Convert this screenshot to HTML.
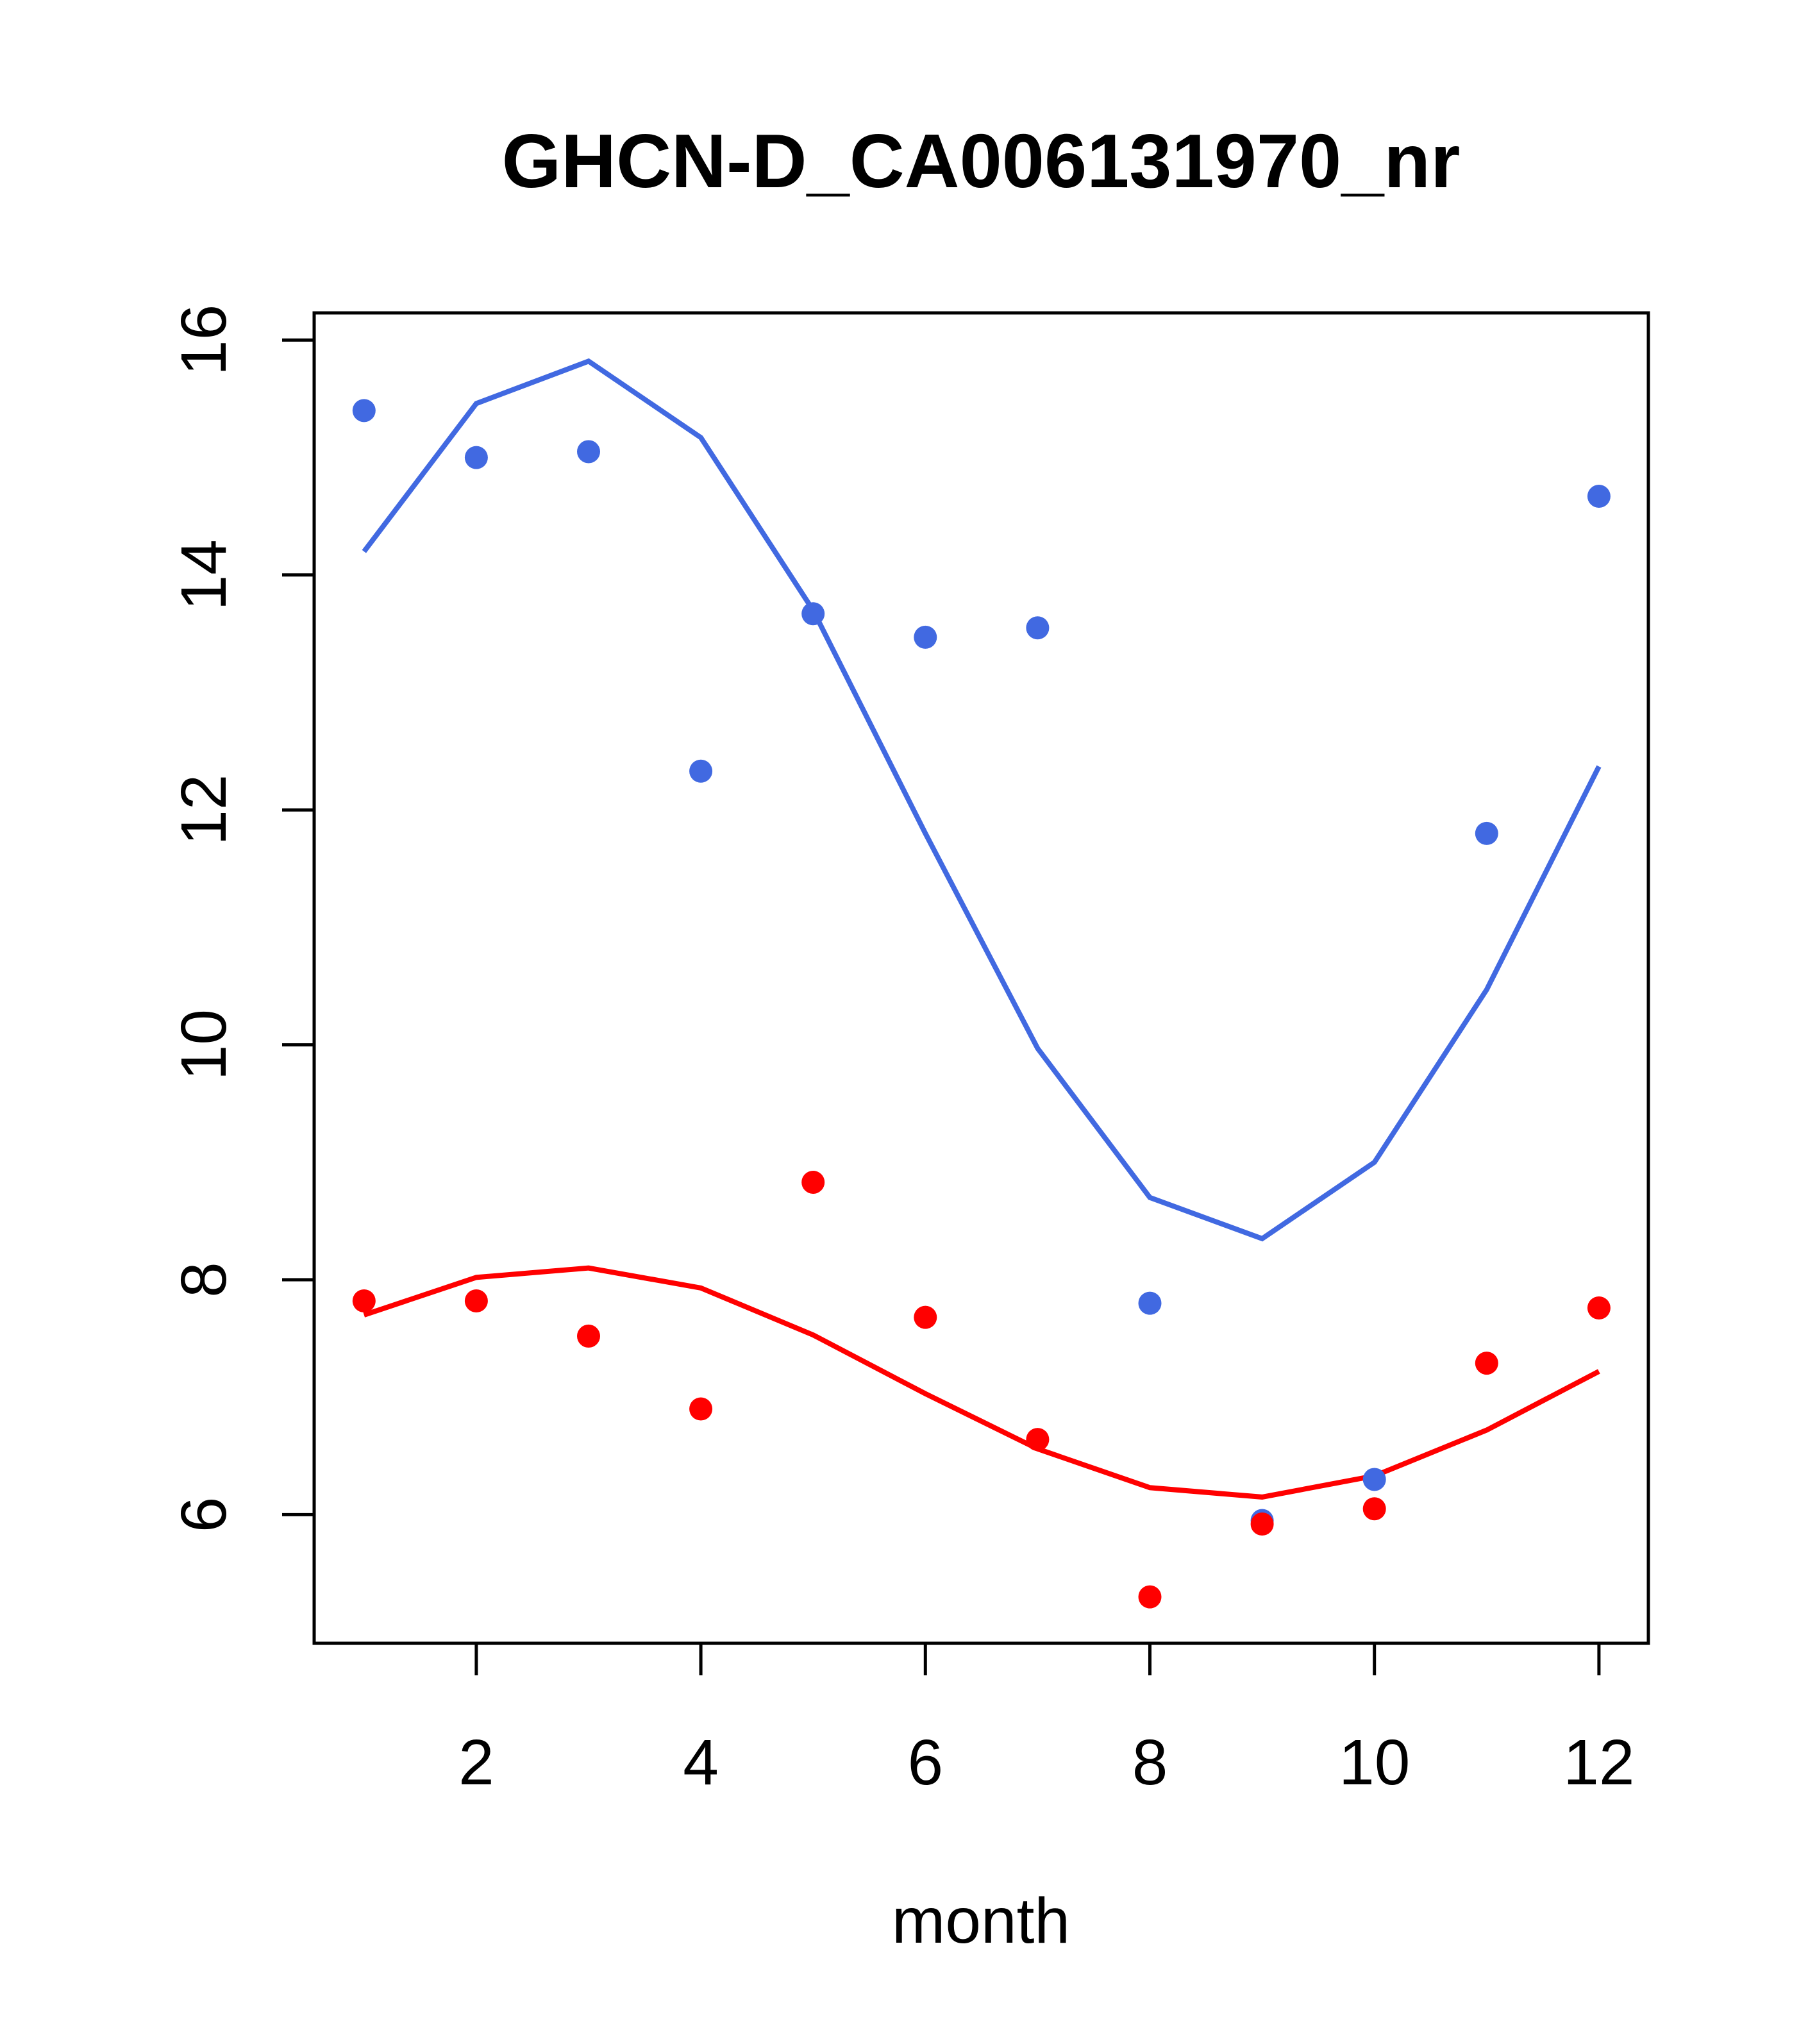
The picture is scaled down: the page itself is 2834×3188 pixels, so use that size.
<!DOCTYPE html>
<html><head><meta charset="utf-8"><style>
html,body{margin:0;padding:0;background:#fff;}
svg{display:block;font-family:"Liberation Sans",sans-serif;}
</style></head><body>
<svg id="chart" width="2834" height="3188" viewBox="0 0 2834 3188">
<text x="1530" y="292" text-anchor="middle" font-size="119" font-weight="bold">GHCN-D_CA006131970_nr</text>
<rect x="490" y="488" width="2081" height="2075" fill="none" stroke="#000" stroke-width="5"/>
<text x="1530" y="3030" text-anchor="middle" font-size="100">month</text>
<g id="axes"></g>
<g id="marks"></g>
</svg>
<script>
const months=[1,2,3,4,5,6,7,8,9,10,11,12];
const bluePoints=[15.4,15.0,15.05,12.33,13.67,13.47,13.55,7.8,5.95,6.3,11.8,14.67];
const blueLine=[14.2,15.46,15.82,15.17,13.7,11.8,9.97,8.7,8.35,9.0,10.47,12.37];
const redPoints=[7.82,7.82,7.52,6.9,8.83,7.68,6.64,5.3,5.92,6.05,7.29,7.76];
const redLine=[7.7,8.02,8.1,7.93,7.53,7.03,6.56,6.23,6.15,6.33,6.72,7.22];
const xTicks=[2,4,6,8,10,12];
const yTicks=[6,8,10,12,14,16];
const NS="http://www.w3.org/2000/svg";
function xs(m){return 742.9+(m-2)*175.1;}
function ys(v){return 530.4+(16-v)*183.2;}
function mk(t,a,p){const e=document.createElementNS(NS,t);for(const k in a)e.setAttribute(k,a[k]);p.appendChild(e);return e;}
const axes=document.getElementById('axes'),marks=document.getElementById('marks');
mk('line',{x1:xs(2),x2:xs(12),y1:2563,y2:2563,stroke:'#000','stroke-width':5},axes);
mk('line',{x1:490,x2:490,y1:ys(6),y2:ys(16),stroke:'#000','stroke-width':5},axes);
xTicks.forEach(t=>{
 const l=mk('line',{x1:xs(t),x2:xs(t),y1:2563,y2:2613,stroke:'#000','stroke-width':5},axes);
 
 
 const tx=mk('text',{x:xs(t),y:2783,'text-anchor':'middle','font-size':100},axes);
 tx.textContent=t;
 
 
});
yTicks.forEach(t=>{
 const l=mk('line',{x1:440,x2:490,y1:ys(t),y2:ys(t),stroke:'#000','stroke-width':5},axes);
 
 
 const tx=mk('text',{x:0,y:0,'text-anchor':'middle','font-size':100,transform:`translate(352,${ys(t)}) rotate(-90)`},axes);
 tx.textContent=t;
 
 
});
function line(vals,col,name){
 const p=mk('polyline',{points:vals.map((v,i)=>xs(months[i])+','+ys(v)).join(' '),fill:'none',stroke:col,'stroke-width':8},marks);
 
 
}
function pts(vals,col,name){
 vals.forEach((v,i)=>{
  const c=mk('circle',{cx:xs(months[i]),cy:ys(v),r:18,fill:col},marks);
  
  
 });
}
line(blueLine,'#4169E1','blue-fit-line');
line(redLine,'#FF0000','red-fit-line');
pts(bluePoints,'#4169E1','blue-point');
pts(redPoints,'#FF0000','red-point');
</script>
</body></html>
